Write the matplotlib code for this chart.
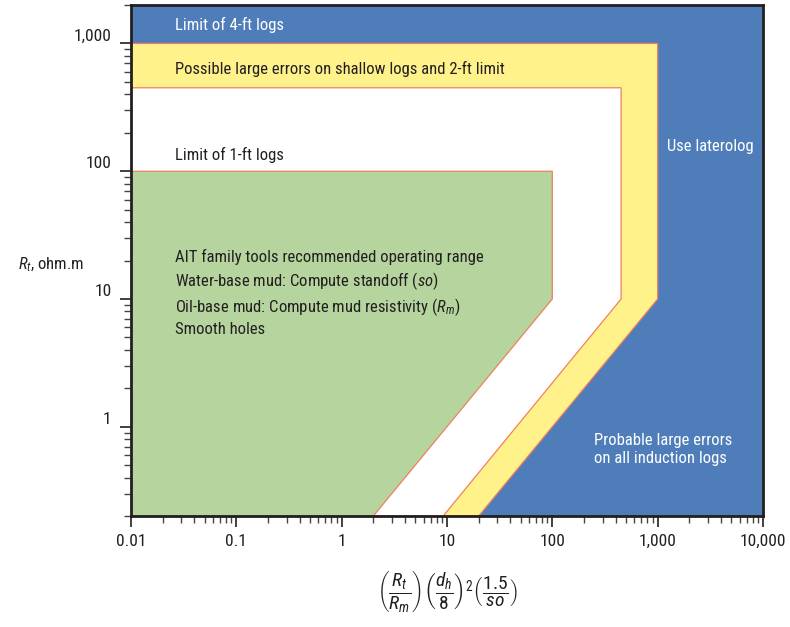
import matplotlib
matplotlib.use("Agg")
import matplotlib.pyplot as plt
from matplotlib.ticker import FixedLocator, LogLocator, NullFormatter

# chart data (log-log zone boundaries)
x_limits = [0.01, 10000]
y_limits = [0.2, 2000]

yellow_x = [0.01, 1000, 1000, 20, 0.01]
yellow_y = [1000, 1000, 10, 0.2, 0.2]
white_x = [0.01, 450, 450, 9.2, 0.01]
white_y = [450, 450, 10, 0.2, 0.2]
green_x = [0.01, 100, 100, 2, 0.01]
green_y = [100, 100, 10, 0.2, 0.2]

x_ticks = [0.01, 0.1, 1, 10, 100, 1000, 10000]
x_ticklabels = ["0.01", "0.1", "1", "10", "100", "1,000", "10,000"]
y_ticks = [1, 10, 100, 1000]
y_ticklabels = ["1", "10", "100", "1,000"]

FONT = ["Roboto Condensed", "DejaVu Sans"]
plt.rcParams['font.family'] = FONT
plt.rcParams['mathtext.fontset'] = 'custom'
plt.rcParams['mathtext.rm'] = 'Roboto Condensed'
plt.rcParams['mathtext.it'] = 'Roboto Condensed:italic'
plt.rcParams['mathtext.bf'] = 'Roboto Condensed:bold'

blue = '#4F7DBA'
yellow = '#FFF28A'
green = '#B5D49E'
edge = '#F08060'
ink = '#231F20'
fs = 12

fig = plt.figure(figsize=(7.9, 6.27), dpi=100)
ax = fig.add_axes([0.1658, 0.177, 0.8, 0.815])
ax.set_xscale('log')
ax.set_yscale('log')
ax.set_xlim(x_limits)
ax.set_ylim(y_limits)
ax.set_facecolor(blue)

ax.fill(yellow_x, yellow_y, facecolor=yellow, edgecolor=edge, linewidth=0.9)
ax.fill(white_x, white_y, facecolor='white', edgecolor=edge, linewidth=0.9)
ax.fill(green_x, green_y, facecolor=green, edgecolor=edge, linewidth=0.9)

# zone labels
ax.text(0.0262, 1400, "Limit of 4-ft logs", color='white', fontsize=fs, va='center')
ax.text(0.0262, 627, "Possible large errors on shallow logs and 2-ft limit",
        color=ink, fontsize=fs, va='center')
ax.text(0.0262, 133, "Limit of 1-ft logs", color=ink, fontsize=fs, va='center')
ax.text(1230, 157, "Use laterolog", color='white', fontsize=fs, va='center')
ax.text(249, 0.66, "Probable large errors\non all induction logs", color='white',
        fontsize=fs, va='center', linespacing=1.25)
ax.text(0.0262, 11.1,
        "AIT family tools recommended operating range\n"
        "Water-base mud: Compute standoff ($so$)\n"
        "Oil-base mud: Compute mud resistivity ($R_m$)\n"
        "Smooth holes",
        color=ink, fontsize=fs, va='center', linespacing=1.3)

# axes styling
for s in ax.spines.values():
    s.set_linewidth(2)
    s.set_color(ink)

ax.xaxis.set_major_locator(FixedLocator(x_ticks))
ax.set_xticklabels(x_ticklabels)
ax.yaxis.set_major_locator(FixedLocator(y_ticks))
ax.set_yticklabels(y_ticklabels)
ax.xaxis.set_minor_locator(LogLocator(base=10, subs=range(2, 10), numticks=20))
ax.yaxis.set_minor_locator(LogLocator(base=10, subs=range(2, 10), numticks=20))
ax.xaxis.set_minor_formatter(NullFormatter())
ax.yaxis.set_minor_formatter(NullFormatter())

ax.tick_params(which='major', length=8, width=1.2, color=ink, labelsize=12.5,
               labelcolor=ink, pad=5)
ax.tick_params(which='minor', length=5, width=1.0, color='#444444')
ax.tick_params(axis='y', which='major', pad=6)
for lab in ax.get_yticklabels():
    lab.set_va('bottom')

ax.set_xlabel(r'$\left(\dfrac{R_t}{R_m}\right)\left(\dfrac{d_h}{8}\right)^2\left(\dfrac{1.5}{so}\right)$',
              fontsize=14, color=ink, labelpad=14)
fig.text(18 / 790, 1 - 265 / 627, r'$R_t$, ohm.m', fontsize=fs, color=ink,
         va='center', ha='left')

fig.savefig('out.png', dpi=100)
